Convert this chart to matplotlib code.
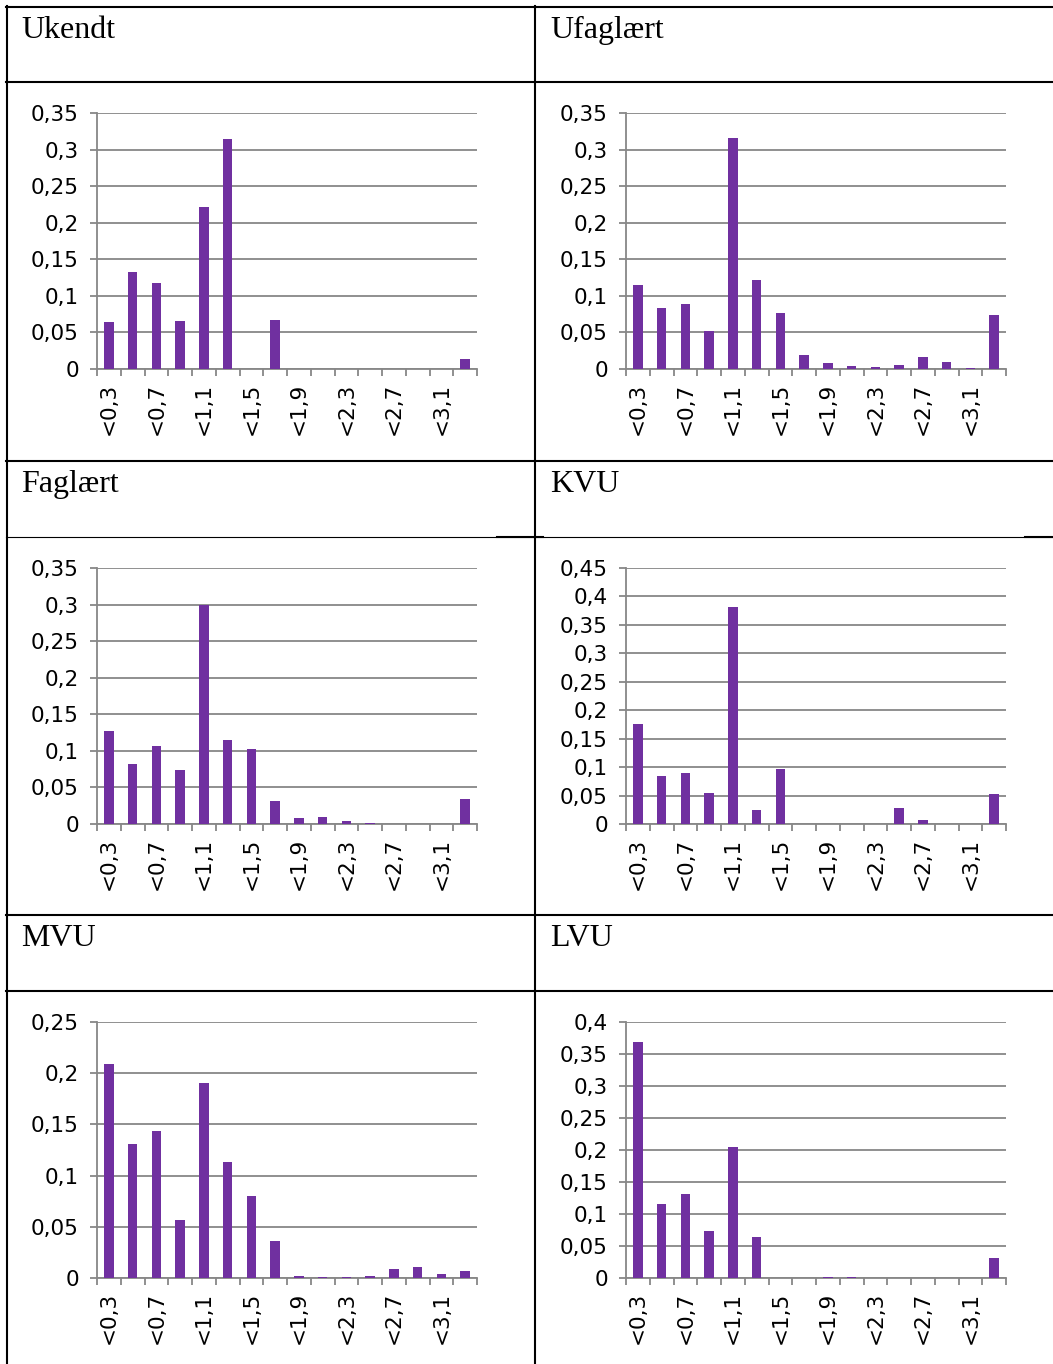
import matplotlib.pyplot as plt
from matplotlib.lines import Line2D
from matplotlib.ticker import FuncFormatter, FixedLocator, MultipleLocator

# Kategorier (kun hver anden vises som label)
categories = ["<0,3", "<0,5", "<0,7", "<0,9", "<1,1", "<1,3", "<1,5", "<1,7",
              "<1,9", "<2,1", "<2,3", "<2,5", "<2,7", "<2,9", "<3,1", ">3,1"]

# Andele pr. uddannelsesgruppe (aflæst)
ukendt = [0.064, 0.133, 0.118, 0.066, 0.222, 0.314, 0.0, 0.067,
          0.0, 0.0, 0.0, 0.0, 0.0, 0.0, 0.0, 0.013]
ufaglaert = [0.115, 0.0835, 0.0895, 0.0525, 0.316, 0.122, 0.076, 0.0187,
             0.0087, 0.004, 0.003, 0.006, 0.016, 0.010, 0.001, 0.074]
faglaert = [0.127, 0.082, 0.107, 0.0735, 0.299, 0.115, 0.103, 0.032,
            0.0078, 0.009, 0.0037, 0.001, 0.0, 0.0, 0.0, 0.034]
kvu = [0.176, 0.0846, 0.089, 0.054, 0.382, 0.025, 0.096, 0.0,
       0.0, 0.0, 0.0, 0.028, 0.0065, 0.0, 0.0, 0.052]
mvu = [0.209, 0.131, 0.144, 0.057, 0.190, 0.113, 0.080, 0.036,
       0.0023, 0.001, 0.0005, 0.002, 0.0088, 0.0104, 0.0036, 0.0065]
lvu = [0.368, 0.116, 0.132, 0.0736, 0.205, 0.0637, 0.0005, 0.0,
       0.001, 0.001, 0.0, 0.0, 0.0, 0.0, 0.0, 0.031]

titles = ["Ukendt", "Ufaglært", "Faglært", "KVU", "MVU", "LVU"]
series = [ukendt, ufaglaert, faglaert, kvu, mvu, lvu]
ymax = [0.35, 0.35, 0.35, 0.45, 0.25, 0.4]

W, H = 1053, 1364
fig = plt.figure(figsize=(W / 100, H / 100), dpi=100)

BAR = "#7030A0"
GRID = "#878787"


def fx(px):
    return px / W


def fy(py):
    return 1 - py / H


def hline(y, x0, x1, lw=1.5):
    fig.add_artist(Line2D([fx(x0), fx(x1)], [fy(y), fy(y)], color="black", lw=lw))


def vline(x, y0, y1, lw=1.5):
    fig.add_artist(Line2D([fx(x), fx(x)], [fy(y0), fy(y1)], color="black", lw=lw))


# Tabel-linjer
hline(7, 6, W)
for y in [82, 461, 915, 991]:
    hline(y, 6, W)
hline(537, 6, W, lw=0.8)
hline(537, 497, 543)
hline(537, 1025, W)
vline(7, 6, H)
vline(535, 6, H)

col_left = [97, 626]
row_top = [113, 568, 1022]
title_base = [38, 492, 946]
ax_w, ax_h = 380, 256

fmt = FuncFormatter(lambda v, p: f"{v:g}".replace(".", ","))

for i, (title, vals, top) in enumerate(zip(titles, series, ymax)):
    r, c = divmod(i, 2)
    left = col_left[c]
    t = row_top[r]
    fig.text(fx(21 + c * 529), fy(title_base[r]), title, family="Liberation Serif",
             fontsize=23, va="baseline", ha="left")

    ax = fig.add_axes([fx(left), fy(t + ax_h), fx(ax_w), ax_h / H])
    x = range(len(categories))
    ax.bar(x, vals, width=0.4, color=BAR, zorder=3)
    ax.set_xlim(-0.5, len(categories) - 0.5)
    ax.set_ylim(0, top)
    ax.yaxis.set_major_locator(MultipleLocator(0.05))
    ax.yaxis.set_major_formatter(fmt)
    ax.grid(axis="y", color=GRID, lw=1.3, zorder=0)

    for s in ["top", "right"]:
        ax.spines[s].set_visible(False)
    ax.spines["left"].set_color(GRID)
    ax.spines["bottom"].set_color(GRID)
    ax.spines["left"].set_linewidth(1.3)
    ax.spines["bottom"].set_linewidth(1.3)

    ax.xaxis.set_major_locator(FixedLocator([k - 0.5 for k in range(len(categories) + 1)]))
    ax.xaxis.set_major_formatter(FuncFormatter(lambda v, p: ""))
    ax.xaxis.set_minor_locator(FixedLocator(list(range(0, len(categories), 2))))
    ax.set_xticklabels([categories[k] for k in range(0, len(categories), 2)], minor=True,
                       rotation=90, fontsize=15.5, family="DejaVu Sans")
    ax.tick_params(axis="x", which="major", length=5, color=GRID, width=1.3)
    ax.tick_params(axis="x", which="minor", length=0, pad=10)
    ax.tick_params(axis="y", length=5, color=GRID, width=1.3, pad=8, labelsize=15.5)

fig.savefig("out.png", dpi=100)
